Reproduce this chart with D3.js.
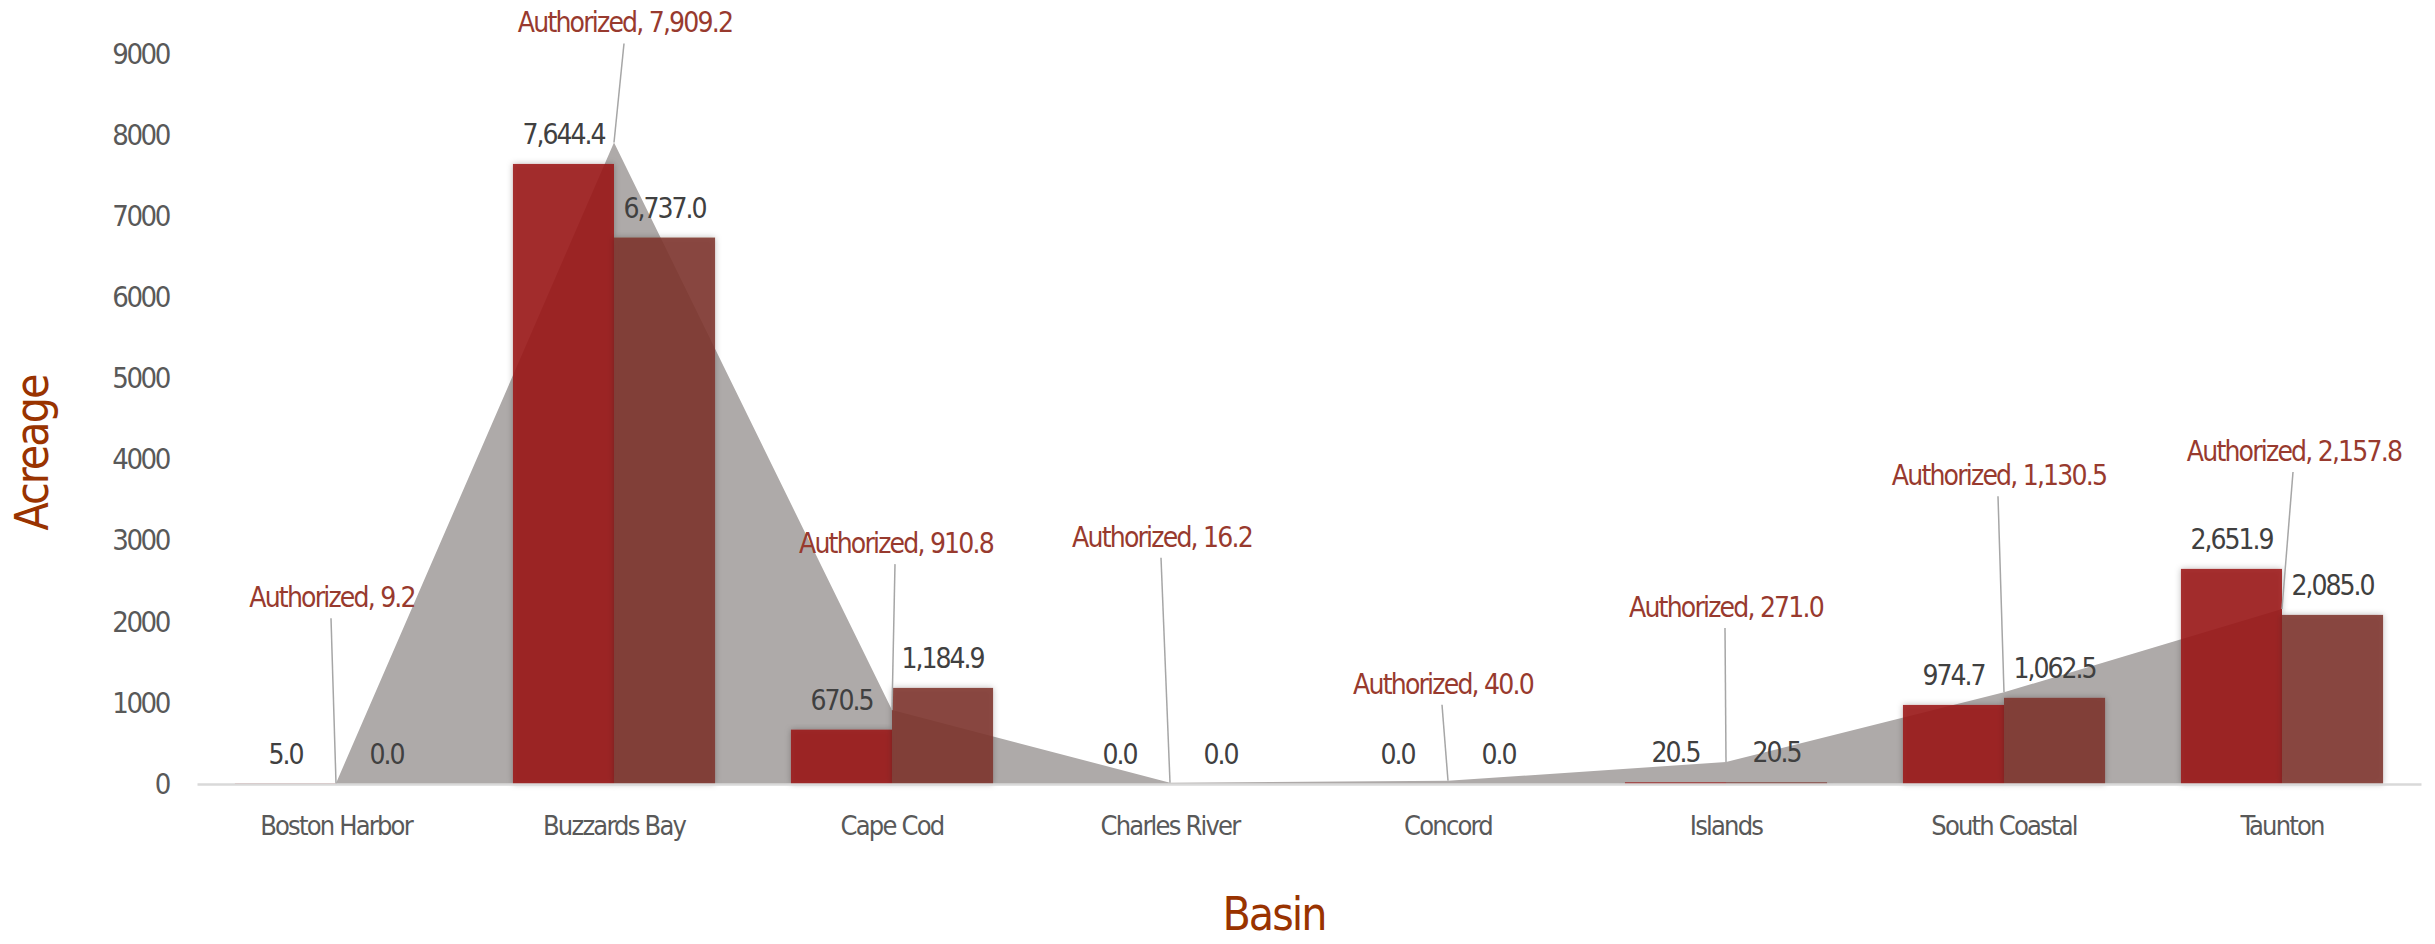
<!DOCTYPE html>
<html>
<head>
<meta charset="utf-8">
<script src="https://cdn.jsdelivr.net/npm/d3@7"></script>
<style>
  body { margin: 0; background: #fff; }
  text { font-family: "DejaVu Sans", sans-serif; font-stretch: condensed; }
  .tick text { fill: #595959; }
  .valueLabel { fill: #404040; font-size: 28px; letter-spacing: -2px; text-anchor: middle; }
  .authLabel { fill: #983a2e; font-size: 28px; letter-spacing: -1.8px; text-anchor: middle; }
  .axisTitle { fill: #993300; font-size: 46px; letter-spacing: -2px; }
</style>
</head>
<body>
<div id="chart"></div>
<script>
// data
var basins = ["Boston Harbor", "Buzzards Bay", "Cape Cod", "Charles River", "Concord", "Islands", "South Coastal", "Taunton"];
var seriesOne = [5.0, 7644.4, 670.5, 0.0, 0.0, 20.5, 974.7, 2651.9];
var seriesTwo = [0.0, 6737.0, 1184.9, 0.0, 0.0, 20.5, 1062.5, 2085.0];
var authorized = [9.2, 7909.2, 910.8, 16.2, 40.0, 271.0, 1130.5, 2157.8];
var yTicks = [0, 1000, 2000, 3000, 4000, 5000, 6000, 7000, 8000, 9000];

// where each "Authorized" callout sits, relative to its point (pixels)
var calloutShift = [[-4, -176], [11, -110], [4, -157], [-8, -236], [-5, -87], [0, -145], [-5, -207], [12, -148]];

var svgWidth = 2435;
var svgHeight = 944;

var svg = d3.select("#chart")
  .append("svg")
  .attr("width", svgWidth)
  .attr("height", svgHeight);

var defs = svg.append("defs");
var shadow = defs.append("filter")
  .attr("id", "barShadow")
  .attr("x", "-10%").attr("y", "-10%")
  .attr("width", "120%").attr("height", "120%");
shadow.append("feDropShadow")
  .attr("dx", 0).attr("dy", 0)
  .attr("stdDeviation", 3)
  .attr("flood-color", "#000")
  .attr("flood-opacity", 0.3);

var xScale = d3.scaleBand()
  .domain(basins)
  .range([197, 2421])
  .paddingInner(0.273)
  .paddingOuter(0.1365);

var xInner = d3.scaleBand()
  .domain([0, 1])
  .range([0, xScale.bandwidth()]);

var yScale = d3.scaleLinear()
  .domain([0, 9000])
  .range([784, 54]);

var centerX = d => xScale(d) + xScale.bandwidth() / 2;

// authorized area behind the bars
var areaData = basins.map((b, i) => ({ basin: b, value: authorized[i] }));
var area = d3.area()
  .x(d => centerX(d.basin))
  .y0(yScale(0))
  .y1(d => yScale(d.value));

svg.append("path")
  .datum(areaData)
  .attr("d", area)
  .attr("fill", "#aeaaa9");

// y axis
var yAxis = svg.append("g")
  .attr("transform", "translate(169, 0)")
  .call(d3.axisLeft(yScale).tickValues(yTicks).tickFormat(d3.format("d")).tickSize(0).tickPadding(0));
yAxis.select(".domain").remove();
yAxis.selectAll("text")
  .style("font-size", "29px")
  .style("letter-spacing", "-2.4px");

// bars
var barColors = ["#9c1819", "#7e362d"];
var barGroups = svg.append("g").selectAll("g")
  .data(basins)
  .enter()
  .append("g")
  .attr("transform", d => `translate(${xScale(d)}, 0)`);

[seriesOne, seriesTwo].forEach(function(series, s) {
  barGroups.append("rect")
    .attr("x", xInner(s))
    .attr("width", xInner.bandwidth())
    .attr("y", (d, i) => yScale(series[i]))
    .attr("height", (d, i) => yScale(0) - yScale(series[i]))
    .attr("fill", barColors[s])
    .attr("fill-opacity", 0.88)
    .attr("filter", "url(#barShadow)");

  barGroups.append("text")
    .classed("valueLabel", true)
    .attr("x", xInner(s) + xInner.bandwidth() / 2)
    .attr("y", (d, i) => yScale(series[i]) - 20)
    .text((d, i) => d3.format(",.1f")(series[i]));
});

// x axis
var xAxis = svg.append("g")
  .attr("transform", `translate(0, ${yScale(0)})`)
  .call(d3.axisBottom(xScale).tickSize(0));
xAxis.select(".domain")
  .attr("stroke", "#d9d9d9")
  .attr("stroke-width", 2.5);
xAxis.selectAll("text")
  .attr("y", 51)
  .attr("dy", 0)
  .style("font-size", "27px")
  .style("letter-spacing", "-1.8px");

// authorized callouts with leader lines
var callouts = svg.append("g").selectAll("g")
  .data(areaData)
  .enter()
  .append("g");

callouts.append("line")
  .attr("x1", (d, i) => centerX(d.basin) + calloutShift[i][0] - 1)
  .attr("y1", (d, i) => yScale(d.value) + calloutShift[i][1] + 11)
  .attr("x2", d => centerX(d.basin))
  .attr("y2", d => yScale(d.value))
  .attr("stroke", "#a6a6a6")
  .attr("stroke-width", 1.5);

callouts.append("text")
  .classed("authLabel", true)
  .attr("x", (d, i) => centerX(d.basin) + calloutShift[i][0])
  .attr("y", (d, i) => yScale(d.value) + calloutShift[i][1])
  .text(d => "Authorized, " + d3.format(",.1f")(d.value));

// axis titles
svg.append("text")
  .classed("axisTitle", true)
  .attr("transform", "translate(48, 453) rotate(-90)")
  .attr("text-anchor", "middle")
  .text("Acreage");

svg.append("text")
  .classed("axisTitle", true)
  .attr("x", 1274)
  .attr("y", 930)
  .attr("text-anchor", "middle")
  .text("Basin");
</script>
</body>
</html>
